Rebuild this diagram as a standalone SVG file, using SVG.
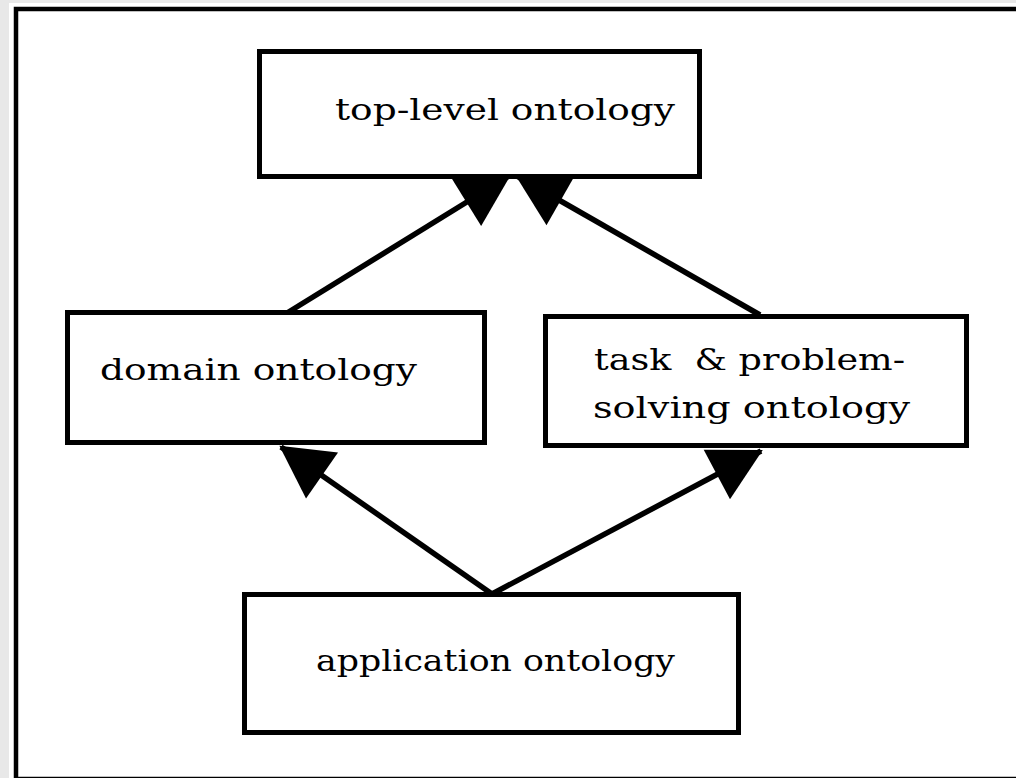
<svg xmlns="http://www.w3.org/2000/svg" width="1016" height="778" viewBox="0 0 1016 778">
  <style>
    .box { fill: #ffffff; stroke: #000000; stroke-width: 5; }
    .lbl { font-family: "DejaVu Serif", "Liberation Serif", serif; font-size: 29px; fill: #000000; }
    .link { stroke: #000000; stroke-width: 5.5; fill: none; marker-end: url(#head); }
  </style>
  <defs>
    <marker id="head" markerUnits="userSpaceOnUse" viewBox="-54 -30 58 60" refX="0" refY="0" markerWidth="58" markerHeight="60" orient="auto">
      <path d="M2 0 L-50 -28 L-50 28 Z" fill="#000000"/>
    </marker>
  </defs>

  <!-- page background and outer frame -->
  <rect x="0" y="0" width="1016" height="778" fill="#e8e8e8"/>
  <rect x="9" y="3" width="1007" height="775" fill="#ffffff"/>
  <rect x="16" y="9" width="1012" height="770" fill="none" stroke="#000000" stroke-width="4.5"/>

  <!-- connectors: each lower ontology points up to the one it specialises -->
  <g id="connectors">
    <line class="link" x1="287" y1="313" x2="509" y2="176"/>
    <line class="link" x1="760" y1="315" x2="517" y2="176"/>
    <line class="link" x1="492" y1="594" x2="281" y2="447"/>
    <line class="link" x1="492" y1="594" x2="761" y2="451"/>
  </g>

  <g id="top-level">
    <rect class="box" x="259.5" y="51.5" width="440" height="125"/>
    <text class="lbl" x="335" y="120" textLength="340" lengthAdjust="spacingAndGlyphs">top-level ontology</text>
  </g>

  <g id="domain">
    <rect class="box" x="67.5" y="312.5" width="417" height="130"/>
    <text class="lbl" x="100" y="380" textLength="317" lengthAdjust="spacingAndGlyphs">domain ontology</text>
  </g>

  <g id="task">
    <rect class="box" x="545.5" y="316.5" width="421" height="129"/>
    <text class="lbl" x="594" y="370" textLength="311" lengthAdjust="spacingAndGlyphs" xml:space="preserve">task  &amp; problem-</text>
    <text class="lbl" x="593" y="418" textLength="317" lengthAdjust="spacingAndGlyphs">solving ontology</text>
  </g>

  <g id="application">
    <rect class="box" x="244.5" y="594.5" width="494" height="138"/>
    <text class="lbl" x="316" y="671" textLength="359" lengthAdjust="spacingAndGlyphs">application ontology</text>
  </g>
</svg>
